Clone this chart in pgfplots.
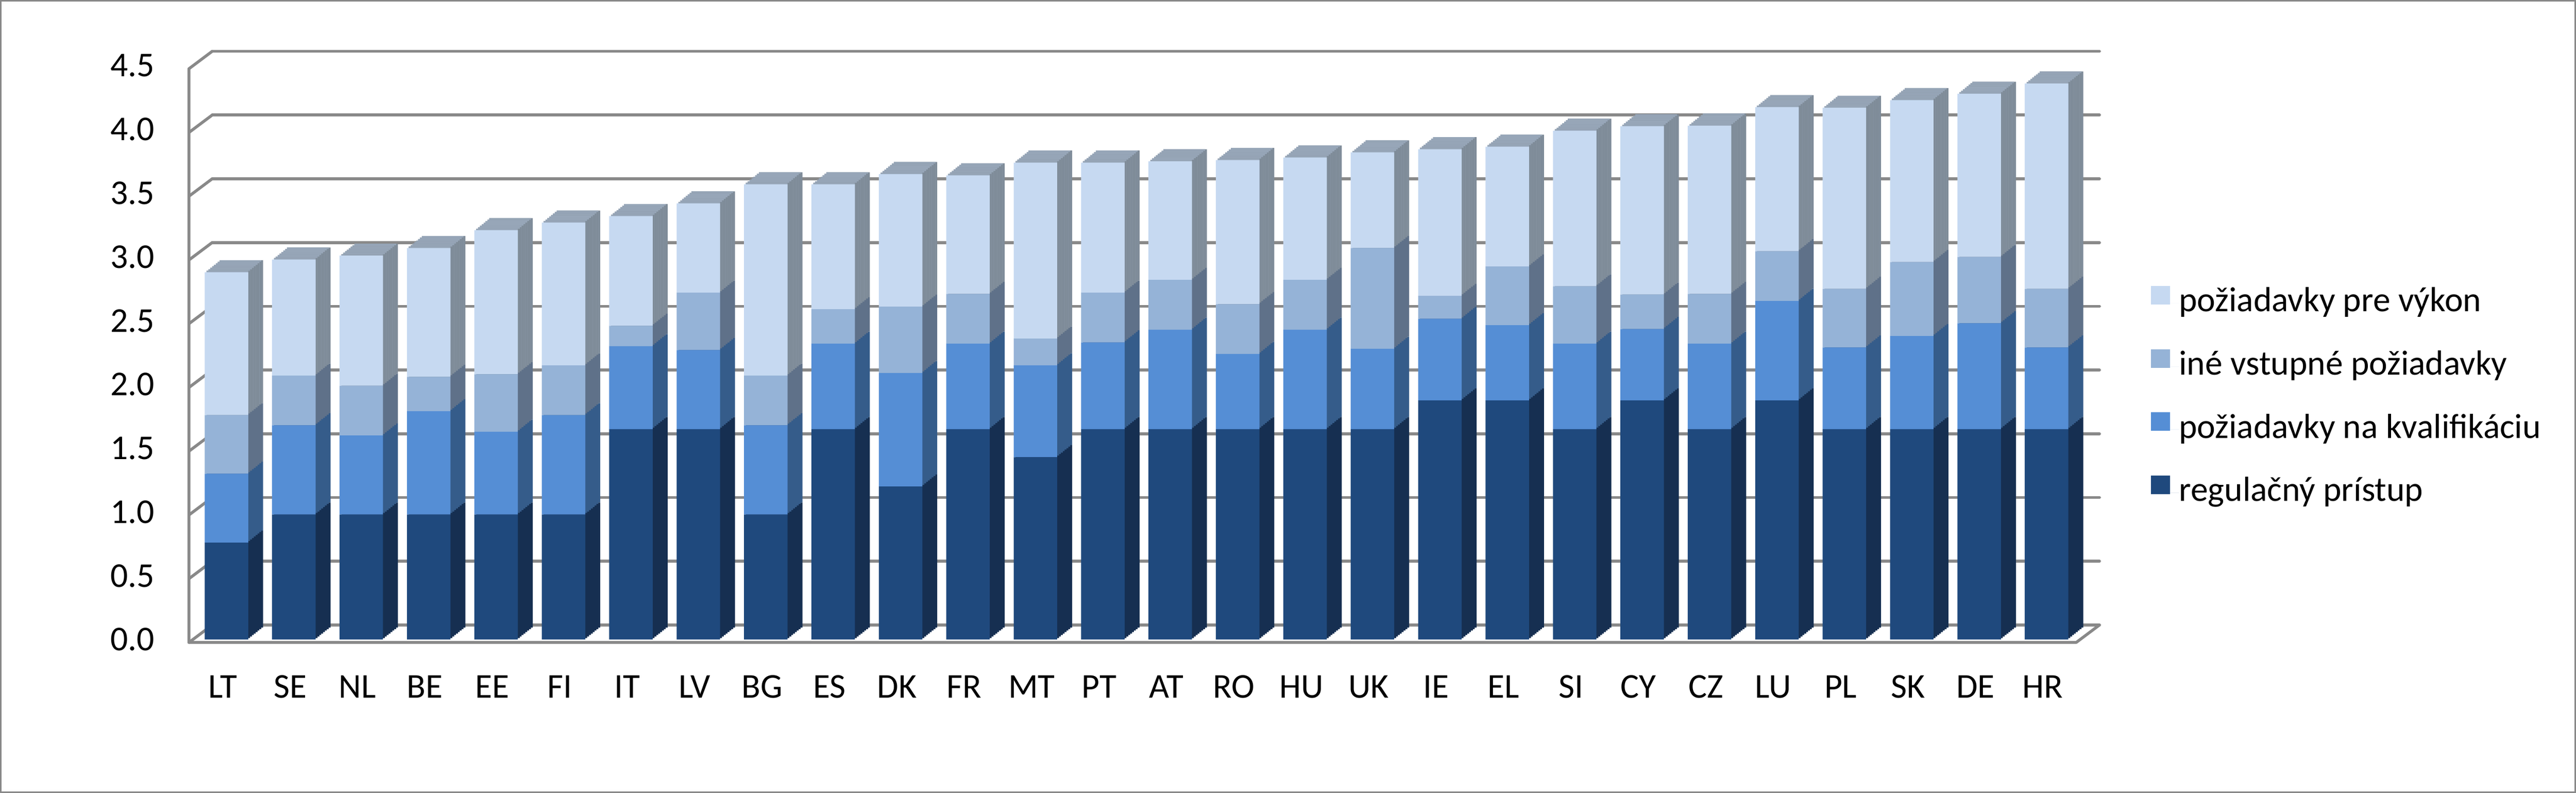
\documentclass[border=0pt]{standalone}
\usepackage{pgfplots}
\pgfplotsset{compat=1.18}
\usepackage{pgfplotstable}
\usepackage{fontspec}
\setmainfont{Carlito}

\definecolor{darkF}{HTML}{1F497D}
\definecolor{darkS}{HTML}{162F51}
\definecolor{blueF}{HTML}{558ED5}
\definecolor{blueS}{HTML}{355C8A}
\definecolor{grayF}{HTML}{95B3D7}
\definecolor{grayS}{HTML}{5F7189}
\definecolor{lightF}{HTML}{C6D9F1}
\definecolor{lightS}{HTML}{7F8C99}
\definecolor{topF}{HTML}{97A6B8}
\definecolor{gridc}{HTML}{898989}

\pgfplotstableread{
x a b c d
0 0.76 0.54 0.46 1.12
1 0.98 0.70 0.39 0.91
2 0.98 0.62 0.39 1.02
3 0.98 0.81 0.27 1.01
4 0.98 0.65 0.45 1.13
5 0.98 0.78 0.39 1.12
6 1.65 0.65 0.16 0.86
7 1.65 0.62 0.45 0.70
8 0.98 0.70 0.39 1.50
9 1.65 0.67 0.27 0.98
10 1.20 0.89 0.52 1.04
11 1.65 0.67 0.39 0.93
12 1.43 0.72 0.21 1.38
13 1.65 0.68 0.39 1.02
14 1.65 0.78 0.39 0.93
15 1.65 0.59 0.39 1.13
16 1.65 0.78 0.39 0.96
17 1.65 0.63 0.79 0.75
18 1.875 0.64 0.18 1.15
19 1.875 0.59 0.46 0.94
20 1.65 0.67 0.45 1.22
21 1.875 0.56 0.27 1.32
22 1.65 0.67 0.39 1.32
23 1.875 0.78 0.39 1.13
24 1.65 0.64 0.46 1.42
25 1.65 0.73 0.58 1.27
26 1.65 0.83 0.52 1.28
27 1.65 0.64 0.46 1.61
}\data

\newcommand{\lblfont}{\fontsize{8.4}{10}\selectfont}

\pgfplotsset{
  base/.style={scale only axis, anchor=south west, x=16.267pt, y=30.77pt,
    xmin=-0.556, xmax=27.44, ymin=0, ymax=4.5},
  sq/.style={legend image code/.code={\fill[##1] (0pt,-0.3pt) rectangle (4.5pt,4.2pt); \path (0pt,0pt) -- (6.7pt,0pt);}},
}

\begin{document}
\begin{tikzpicture}
\path[use as bounding box] (0,0) rectangle (621.6pt,191.3pt);
\draw[color=gridc, line width=0.4pt] (0.2pt,0.2pt) rectangle (621.4pt,191.1pt);

% back wall with grid lines
\begin{axis}[base, at={(51.2pt,40.5pt)}, y=30.76pt,
  ytick={0,0.5,1,1.5,2,2.5,3,3.5,4,4.5}, ymajorgrids,
  grid style={color=gridc, line width=0.7pt, line cap=round},
  xtick=\empty, yticklabels={}, axis line style={draw=none}, major tick length=0pt]
\addplot[draw=none] coordinates {(0,0)};
\end{axis}
\foreach \v in {0,...,9}
  \draw[gridc, line width=0.7pt, line cap=round] (45.6pt,36.3pt+\v*15.38pt) -- (51.2pt,40.5pt+\v*15.38pt);
\draw[gridc, line width=0.7pt, line cap=round, line join=round]
  (45.6pt,174.7pt) -- (45.6pt,36.3pt) -- (501.0pt,36.3pt) -- (506.6pt,40.5pt);

% depth of the columns: layers from back to front
\foreach \k in {8,7,...,1}{
\begin{axis}[base, at={(45.6pt+\k*0.45pt,37.0pt+\k*0.3625pt)}, hide axis, ybar stacked, bar width=10.5pt]
\addplot[fill=darkS, draw=none] table[x=x,y=a]{\data};
\addplot[fill=blueS, draw=none] table[x=x,y=b]{\data};
\addplot[fill=grayS, draw=none] table[x=x,y=c]{\data};
\addplot[fill=lightS, draw=none] table[x=x,y=d]{\data};
\end{axis}
\begin{axis}[base, at={(45.6pt+\k*0.45pt-0.225pt,37.0pt+\k*0.3625pt)}, hide axis, ybar stacked, bar width=10.05pt]
\addplot[fill=none, draw=none] table[x=x,y=a]{\data};
\addplot[fill=none, draw=none] table[x=x,y=b]{\data};
\addplot[fill=none, draw=none] table[x=x,y=c]{\data};
\addplot[fill=topF, draw=none] table[x=x,y=d]{\data};
\end{axis}
}

% front faces
\begin{axis}[base, at={(45.6pt,37.0pt)}, ybar stacked, bar width=10.5pt,
  axis line style={draw=none}, major tick length=0pt,
  xtick=data,
  xticklabels={LT,SE,NL,BE,EE,FI,IT,LV,BG,ES,DK,FR,MT,PT,AT,RO,HU,UK,IE,EL,SI,CY,CZ,LU,PL,SK,DE,HR},
  ytick={0,0.5,1,1.5,2,2.5,3,3.5,4,4.5},
  yticklabels={0.0,0.5,1.0,1.5,2.0,2.5,3.0,3.5,4.0,4.5},
  xticklabel style={anchor=base, yshift=-14.1pt, xshift=-0.9pt, inner sep=0pt, font=\lblfont},
  yticklabel style={anchor=east, xshift=-8.1pt, inner sep=0pt, font=\lblfont},
  legend style={at={(1.0397,0.616)}, anchor=north west, draw=none, fill=none,
    inner sep=0pt, outer sep=0pt, row sep=7.03pt, font=\lblfont,
    nodes={inner sep=0pt, text height=6pt, text depth=2pt}},
  legend cell align=left, reverse legend]
\addplot[fill=darkF, draw=none, sq] table[x=x,y=a]{\data};
\addlegendentry{regulačný prístup}
\addplot[fill=blueF, draw=none, sq] table[x=x,y=b]{\data};
\addlegendentry{požiadavky na kvalifikáciu}
\addplot[fill=grayF, draw=none, sq] table[x=x,y=c]{\data};
\addlegendentry{iné vstupné požiadavky}
\addplot[fill=lightF, draw=none, sq] table[x=x,y=d]{\data};
\addlegendentry{požiadavky pre výkon}
\end{axis}
\end{tikzpicture}
\end{document}
